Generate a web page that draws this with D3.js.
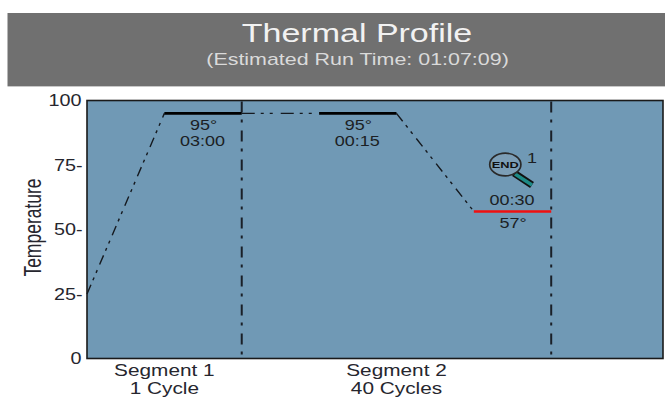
<!DOCTYPE html>
<html><head><meta charset="utf-8">
<script src="https://cdn.jsdelivr.net/npm/d3@7"></script>
<style>html,body{margin:0;background:#fff}svg{display:block}text{font-family:"Liberation Sans",Arial,sans-serif}</style>
</head><body><div id="c"></div>
<script>
const yTicks=[0,25,50,75,100];
const yTickLabels=["0","25-","50-","75-","100"];
const rampX=[0,1,2,3,4,5];
const rampT=[25,95,95,95,95,57];
const holds=[{from:1,to:2,t:95,color:"#000"},{from:3,to:4,t:95,color:"#000"},{from:5,to:6,t:57,color:"#f01010"}];
const holdLabels=[{x:1.5,t:"95°",time:"03:00",below:true},{x:3.5,t:"95°",time:"00:15",below:true},{x:5.5,t:"57°",time:"00:30",below:false}];
const dividers=[2,6];
const segments=[{x:1,a:"Segment 1",b:"1 Cycle"},{x:4,a:"Segment 2",b:"40 Cycles"}];
const title="Thermal Profile";
const subtitle="(Estimated Run Time: 01:07:09)";
const yLabel="Temperature";

const W=665,H=398;
const svg=d3.select("#c").append("svg").attr("width",W).attr("height",H);
const m={l:87,r:663,t:100.5,b:358.5};
const x=d3.scaleLinear().domain([0,7.445]).range([m.l,m.r]);
const y=d3.scaleLinear().domain([0,100]).range([m.b,m.t]);

function label(px,py,sx,size,anchor,fill,str,weight){
  return svg.append("text").attr("transform",`translate(${px},${py}) scale(${sx},1)`)
    .attr("text-anchor",anchor).attr("font-size",size).attr("fill",fill).attr("font-weight",weight||"normal").text(str);
}

svg.append("rect").attr("x",7.5).attr("y",13).attr("width",657.5).attr("height",73).attr("fill","#707070");
svg.append("rect").attr("x",7.5).attr("y",86).attr("width",657.5).attr("height",1).attr("fill","#c8c8c8");
label(357,42,1.36,25,"middle","#f2f2f2",title);
label(357.5,65,1.34,16,"middle","#dadada",subtitle);

svg.append("rect").attr("x",m.l).attr("y",m.t).attr("width",m.r-m.l).attr("height",m.b-m.t)
  .attr("fill","#7099b5").attr("stroke","#1a1a1a").attr("stroke-width",1.6);

yTicks.forEach((v,i)=>label(v===100||v===0?81.5:82.5,y(v)+5.5,1.2,16.5,"end","#26262e",yTickLabels[i]));
svg.append("text").attr("transform","translate(40.5,227.5) rotate(-90) scale(1.03,1.4)").attr("text-anchor","middle")
  .attr("font-size",17).attr("fill","#26262e").text(yLabel);

// sloped and connecting ramps, one path per gap between holds
const pts=rampX.map((d,i)=>[x(d),y(rampT[i])]);
[[0,1,"10 5 3 5 3 6"],[2,3,"13 6 3 6 3 8"],[4,5,"10 5 3 5 3 6"]].forEach(([a,b,dash])=>{
  svg.append("path").attr("d",d3.line()([pts[a],pts[b]])).attr("fill","none")
    .attr("stroke","#15191f").attr("stroke-width",1.4).attr("stroke-dasharray",dash);
});

dividers.forEach(d=>svg.append("line").attr("x1",x(d)).attr("x2",x(d)).attr("y1",101.5).attr("y2",357)
  .attr("stroke","#1a2028").attr("stroke-width",2).attr("stroke-dasharray","11 7 3 8"));

holds.forEach(h=>svg.append("line").attr("x1",x(h.from)).attr("x2",x(h.to)).attr("y1",y(h.t)).attr("y2",y(h.t))
  .attr("stroke",h.color).attr("stroke-width",2.6));

holdLabels.forEach(l=>{
  const yy=y(l.below?95:57);
  const a=l.below?yy+16.5:yy+17, b=l.below?yy+32.5:yy-6;
  label(x(l.x)+0.5,a,1.2,15,"middle","#1c1f24",l.t);
  label(x(l.x)-0.5,b,1.2,15,"middle","#1c1f24",l.time);
});

const g=svg.append("g");
g.append("line").attr("x1",514).attr("y1",173).attr("x2",532).attr("y2",185).attr("stroke","#111").attr("stroke-width",7);
g.append("line").attr("x1",515).attr("y1",174).attr("x2",532).attr("y2",185).attr("stroke","#1d8a86").attr("stroke-width",3.5);
g.append("ellipse").attr("cx",505.3).attr("cy",164.5).attr("rx",15.6).attr("ry",11.4).attr("fill","#7c9eb6").attr("stroke","#2a2a2a").attr("stroke-width",1.7);
label(505.3,168.3,1.35,9.5,"middle","#111","END","bold");
label(532,163,1.2,15,"middle","#1c1f24","1");

segments.forEach(s=>{
  label(x(s.x),375.5,1.3,16,"middle","#26262e",s.a);
  label(x(s.x),394,1.3,16,"middle","#26262e",s.b);
});
</script></body></html>
